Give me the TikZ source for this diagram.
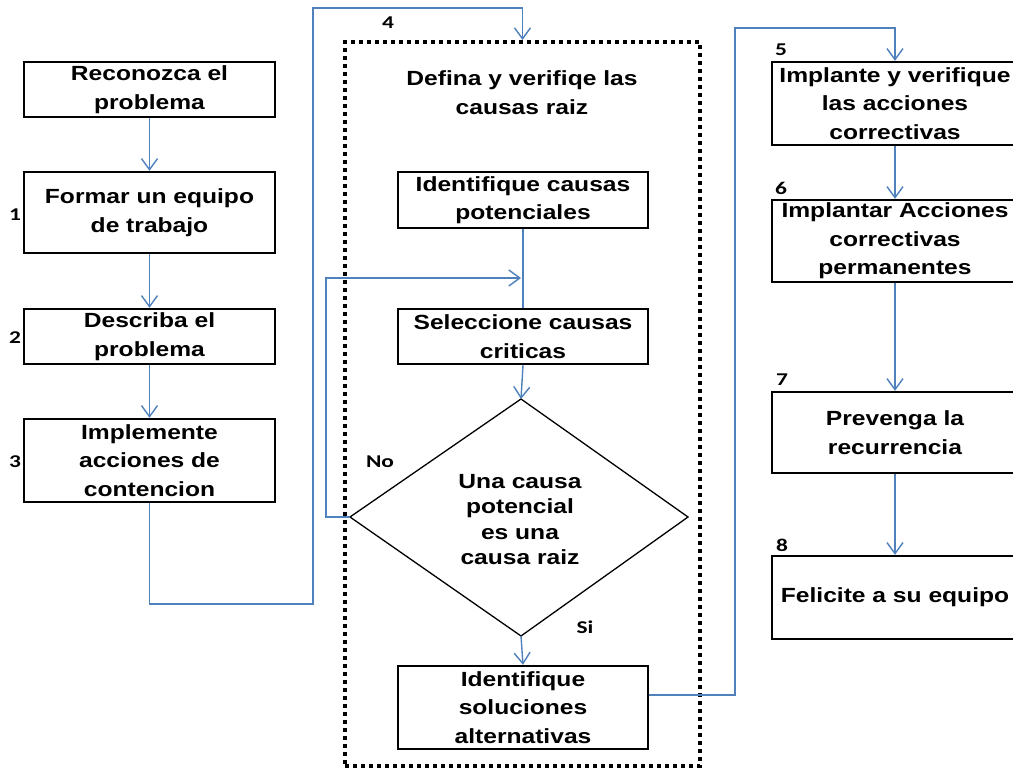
\documentclass[tikz,border=0pt]{standalone}
\usepackage{fontspec}
\newfontfamily\arialx[FakeStretch=1.2]{Liberation Sans}
\newfontfamily\calx[FakeStretch=1.3]{Carlito}
\usetikzlibrary{arrows.meta}
\definecolor{connblue}{RGB}{79,129,189}
\begin{document}
\begin{tikzpicture}[x=1pt,y=-1pt,
  box/.style={draw=black,line width=2.4pt,inner sep=0pt,align=center,
    font=\arialx\bfseries\fontsize{20.5}{28.5}\selectfont},
  lbox/.style={box,minimum width=251pt},
  mbox/.style={box,minimum width=250pt},
  rbox/.style={box,minimum width=246pt},
  numlabel/.style={inner sep=0pt,font=\calx\bfseries\fontsize{18}{20}\selectfont},
  title/.style={inner sep=0pt,align=center,font=\arialx\bfseries\fontsize{20.5}{29}\selectfont},
  dtext/.style={inner sep=0pt,align=center,font=\arialx\bfseries\fontsize{20.5}{25.5}\selectfont},
  dotbox/.style={draw=black,line width=4pt,dash pattern=on 4pt off 4pt,inner sep=0pt},
  conn/.style={draw=connblue,line width=1.4pt},
  arr/.style={conn,-{Straight Barb[length=11pt,width=16pt]}}]
\clip (0,0) rectangle (1013,770);
\fill[white] (0,0) rectangle (1013,770);

% left column
\node[lbox,minimum height=55pt] (r0) at (149.5,89.5) {Reconozca el\\problema};
\node[lbox,minimum height=81pt] (r1) at (149.5,212.5) {Formar un equipo\\de trabajo};
\node[lbox,minimum height=55pt] (r2) at (149.5,336.5) {Describa el\\problema};
\node[lbox,minimum height=83pt] (r3) at (149.5,460.5) {Implemente\\acciones de\\contencion};
\node[numlabel] (n1) at (15,215) {1};
\node[numlabel] (n2) at (15,338) {2};
\node[numlabel] (n3) at (15,462) {3};

% dotted group
\node[dotbox,minimum width=355pt,minimum height=724pt] (grp) at (522.5,404) {};
\node[title] (gtitle) at (522,92.5) {Defina y verifiqe las\\causas raiz};
\node[numlabel] (n4) at (388,23) {4};
\node[mbox,minimum height=56pt] (m1) at (523,200) {Identifique causas\\potenciales};
\node[mbox,minimum height=55pt] (m2) at (523,336.5) {Seleccione causas\\criticas};
\coordinate (dT) at (521,399);
\coordinate (dL) at (350,517);
\coordinate (dR) at (688,517);
\coordinate (dB) at (521,636);
\draw[black,line width=1.3pt,line join=miter] (dT) -- (dR) -- (dB) -- (dL) -- cycle;
\node[dtext] (dtxt) at (520,519.5) {Una causa\\potencial\\es una\\causa raiz};
\node[mbox,minimum height=83pt] (m3) at (523,707.5) {Identifique\\soluciones\\alternativas};
\node[numlabel] (no) at (380,462) {No};
\node[numlabel] (si) at (585,627) {Si};

% right column
\node[rbox,minimum height=83pt] (r5) at (895,103.5) {Implante y verifique\\las acciones\\correctivas};
\node[rbox,minimum height=82pt] (r6) at (895,241) {Implantar Acciones\\correctivas\\permanentes};
\node[rbox,minimum height=81pt] (r7) at (895,432.5) {Prevenga la\\recurrencia};
\node[rbox,minimum height=83pt] (r8) at (895,597.5) {Felicite a su equipo};
\node[numlabel] (n5) at (781,50) {5};
\node[numlabel] (n6) at (781,188) {6};
\node[numlabel] (n7) at (782,380) {7};
\node[numlabel] (n8) at (782,545) {8};

% connectors
\draw[arr] (r0.south) -- (r1.north);
\draw[arr] (r1.south) -- (r2.north);
\draw[arr] (r2.south) -- (r3.north);
\coordinate (c1) at (313,604);
\coordinate (c2) at (522.5,8);
\draw[arr] (r3.south) |- (c1) |- (c2) -- (grp.north);

\draw[conn] (m1.south) -- (m2.north);
\draw[arr] (m2.south) -- (dT);
\coordinate (cL) at (326,278);
\coordinate (mj) at (521,278);
\draw[arr] (dL) -| (cL) -- (mj);
\draw[arr] (dB) -- (m3.north);

\coordinate (cR) at (735,28);
\draw[arr] ([yshift=12.5pt]m3.east) -| (cR) -| (r5.north);

\draw[arr] (r5.south) -- (r6.north);
\draw[arr] (r6.south) -- (r7.north);
\draw[arr] (r7.south) -- (r8.north);
\end{tikzpicture}
\end{document}
